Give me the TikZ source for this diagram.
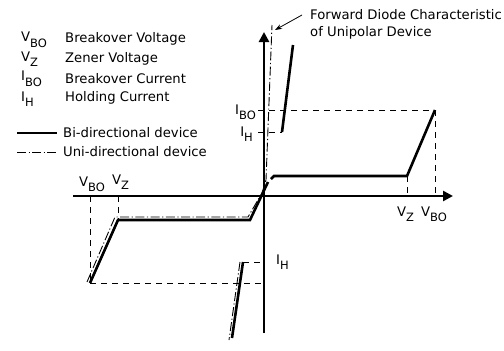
\documentclass[tikz,border=0pt]{standalone}
\usepackage{fontspec}
\setmainfont{DejaVu Sans}
\usetikzlibrary{arrows.meta}
\newcommand{\sbs}[1]{\raisebox{-0.42em}{\fontsize{11.5}{11.5}\selectfont #1}}
\begin{document}
\begin{tikzpicture}[x=1pt,y=-1pt,
  lbl/.style={inner sep=0pt,font=\fontsize{13.2}{15}\selectfont},
  bi/.style={line width=2.6pt,line join=miter},
  uni/.style={line width=0.9pt,dash pattern=on 9pt off 2.5pt on 1.2pt off 2.5pt},
  guide/.style={line width=0.9pt,dash pattern=on 6pt off 5pt},
  axis/.style={line width=2.6pt,-{Triangle[length=10pt,width=10pt]}}]
\useasboundingbox (0,0) rectangle (504,351);
% legend
\node[lbl,anchor=west] (l1) at (21,40) {V\sbs{BO}};
\node[lbl,anchor=west] (t1) at (65,39) {Breakover Voltage};
\node[lbl,anchor=west] (l2) at (21,59) {V\sbs{Z}};
\node[lbl,anchor=west] (t2) at (65,59) {Zener Voltage};
\node[lbl,anchor=west] (l3) at (21,79) {I\sbs{BO}};
\node[lbl,anchor=west] (t3) at (65,79) {Breakover Current};
\node[lbl,anchor=west] (l4) at (21,99) {I\sbs{H}};
\node[lbl,anchor=west] (t4) at (65,98) {Holding Current};
\coordinate (b1) at (17,133); \coordinate (b2) at (57,133);
\coordinate (u1) at (17,152); \coordinate (u2) at (57,152);
\draw[bi] (b1) -- (b2);
\draw[uni] (u1) -- (u2);
\node[lbl,anchor=west] (tb) at (63,133) {Bi-directional device};
\node[lbl,anchor=west] (tu) at (63,152) {Uni-directional device};
% axes
\coordinate (O) at (264,196);
\coordinate (xl) at (73,196); \coordinate (xr) at (453,196);
\coordinate (yb) at (264,333); \coordinate (yt) at (264,32);
% guides
\draw[guide] (90,196) -- (90,283);
\draw[guide] (118,196) -- (118,220);
\draw[guide] (90,283) -- (264,283);
\draw[guide] (243,262) -- (264,262);
\draw[guide] (258,110) -- (435,110);
\draw[guide] (258,132) -- (282,132);
\draw[guide] (435,110) -- (435,196);
\draw[guide] (407,176) -- (407,196);
\draw[axis] (xl) -- (xr);
\draw[axis] (yb) -- (yt);
% uni-directional (offset)
\draw[uni] (87,282) -- (115,217) -- (248,217) -- (262,193) -- (266,180) -- (272,25);
\draw[uni] (240,262) -- (229,340);
% bi-directional
\draw[bi] (90,283) -- (118,220) -- (250,220) -- (268,182);
\draw[bi] (271,179) -- (274,176) -- (407,176) -- (435,110);
\draw[bi] (243,262) -- (232,338);
\draw[bi] (282,132) -- (293,45);
% axis labels
\node[lbl,anchor=base west] (vbol) at (79,186) {V\sbs{BO}};
\node[lbl,anchor=base west] (vzl) at (112,184) {V\sbs{Z}};
\node[lbl,anchor=base west] (vzr) at (397,216) {V\sbs{Z}};
\node[lbl,anchor=base west] (vbor) at (421,216) {V\sbs{BO}};
\node[lbl,anchor=base east] (ibo) at (256,114) {I\sbs{BO}};
\node[lbl,anchor=base east] (ih1) at (253,136) {I\sbs{H}};
\node[lbl,anchor=base west] (ih2) at (276,264) {I\sbs{H}};
% annotation
\node[lbl,anchor=west] (fd1) at (310,15) {Forward Diode Characteristic};
\node[lbl,anchor=west] (fd2) at (310,33) {of Unipolar Device};
\coordinate (ah) at (275,30);
\draw[line width=0.8pt,-{Stealth[length=7pt,width=5pt]}] (302,15) -- (ah);
\end{tikzpicture}
\end{document}
